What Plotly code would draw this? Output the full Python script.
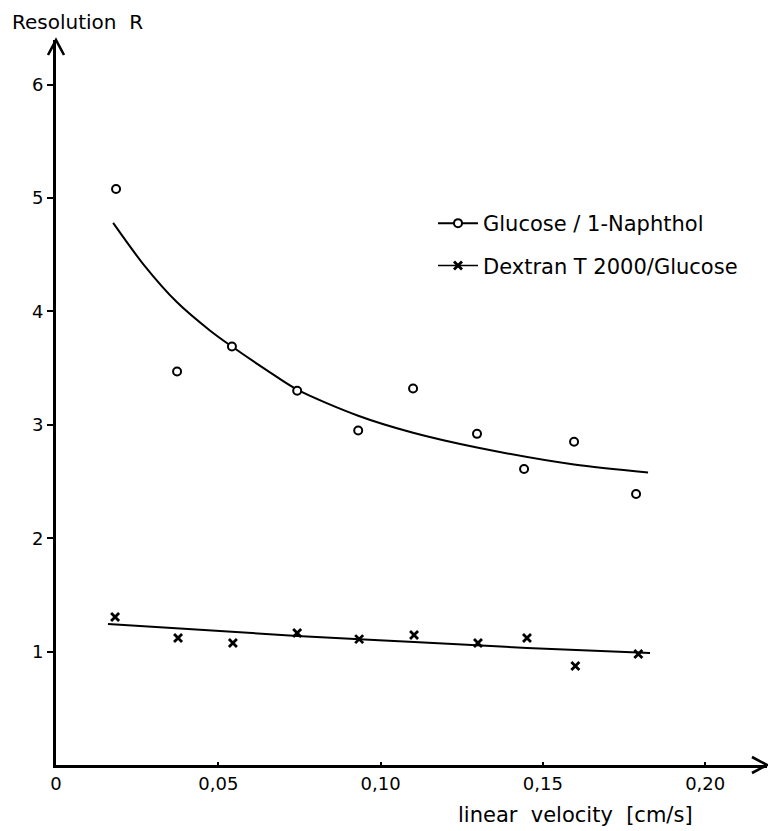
import plotly.graph_objects as go

# ---- data ----
glc_x = [0.0185, 0.0373, 0.0542, 0.0743, 0.0931, 0.1100, 0.1297, 0.1442, 0.1596, 0.1787]
glc_y = [5.08, 3.47, 3.69, 3.30, 2.95, 3.32, 2.92, 2.61, 2.85, 2.39]
glc_fit_x = [0.0176, 0.0268, 0.0373, 0.0475, 0.0542, 0.0650, 0.0743, 0.0931, 0.1100, 0.1297, 0.1596, 0.1824]
glc_fit_y = [4.78, 4.42, 4.08, 3.83, 3.69, 3.48, 3.31, 3.08, 2.93, 2.80, 2.65, 2.58]

dex_x = [0.0182, 0.0376, 0.0545, 0.0743, 0.0934, 0.1103, 0.1300, 0.1451, 0.1600, 0.1794]
dex_y = [1.305, 1.12, 1.076, 1.164, 1.11, 1.146, 1.076, 1.12, 0.873, 0.979]
dex_fit_x = [0.0160, 0.0743, 0.1103, 0.1451, 0.1830]
dex_fit_y = [1.243, 1.138, 1.085, 1.032, 0.988]

x_tickvals = [0, 0.05, 0.10, 0.15, 0.20]
x_ticktext = ["0", "0,05", "0,10", "0,15", "0,20"]
y_tickvals = [1, 2, 3, 4, 5, 6]
y_ticktext = ["1", "2", "3", "4", "5", "6"]

names = ["Glucose / 1-Naphthol", "Dextran T 2000/Glucose"]

FONT = "DejaVu Sans"
W, H = 768, 831
L, R, T, B = 56, 1, 40, 66
PW, PH = W - L - R, H - T - B

fig = go.Figure()

# fitted curves
fig.add_trace(go.Scatter(x=glc_fit_x, y=glc_fit_y, mode="lines",
                         line=dict(color="black", width=2, shape="spline", smoothing=0.8),
                         showlegend=False, hoverinfo="skip"))
fig.add_trace(go.Scatter(x=dex_fit_x, y=dex_fit_y, mode="lines",
                         line=dict(color="black", width=2, shape="spline"),
                         showlegend=False, hoverinfo="skip"))

circle_marker = dict(symbol="circle", size=8, color="white",
                     line=dict(color="black", width=2))
cross_marker = dict(symbol="x-thin", size=8, color="black",
                    line=dict(color="black", width=2.8))

fig.add_trace(go.Scatter(x=glc_x, y=glc_y, mode="markers", marker=circle_marker,
                         showlegend=False))
fig.add_trace(go.Scatter(x=dex_x, y=dex_y, mode="markers", marker=cross_marker,
                         showlegend=False))

# legend-only entries (line + marker symbol)
fig.add_trace(go.Scatter(x=[None], y=[None], mode="lines+markers", name=names[0],
                         legendgroup="a", marker=circle_marker,
                         line=dict(color="black", width=2)))
fig.add_trace(go.Scatter(x=[None], y=[None], mode="lines+markers", name=names[1],
                         legendgroup="b", marker=cross_marker,
                         line=dict(color="black", width=1.5)))

# arrowheads on axes (paper coords, pixel-sized)
def px_x(p):
    return p / PW

def px_y(p):
    return p / PH

shapes = [
    dict(type="path", xref="paper", yref="paper",
         path=f"M {-px_x(8)},{1 - px_y(15)} L 0,1 L {px_x(8)},{1 - px_y(15)}",
         line=dict(color="black", width=2.6)),
    dict(type="path", xref="paper", yref="paper",
         path=f"M {1 - px_x(15)},{px_y(8)} L 1,0 L {1 - px_x(15)},{-px_y(8)}",
         line=dict(color="black", width=2.6)),
]

fig.update_layout(
    width=W, height=H,
    margin=dict(l=L, r=R, t=T, b=B),
    paper_bgcolor="white", plot_bgcolor="white",
    font=dict(family=FONT, color="black", size=18),
    shapes=shapes,
    showlegend=True,
    legend=dict(x=(433 - L) / PW, y=1 - (203 - T) / PH, xanchor="left", yanchor="top",
                font=dict(size=21, family=FONT), bgcolor="rgba(0,0,0,0)",
                tracegroupgap=12, itemwidth=40),
    annotations=[
        dict(text="Resolution  R", xref="paper", yref="paper",
             x=-(L - 10) / PW, y=1 + (T - 22) / PH, xanchor="left", yanchor="middle",
             showarrow=False, font=dict(size=20, family=FONT)),
        dict(text="linear  velocity  [cm/s]", xref="paper", yref="paper",
             x=(575 - L) / PW, y=-(815 - (T + PH)) / PH, xanchor="center", yanchor="middle",
             showarrow=False, font=dict(size=21, family=FONT)),
    ],
)

fig.update_xaxes(range=[0, PW / 3246.0], showgrid=False, zeroline=False,
                 showline=True, linecolor="black", linewidth=3,
                 tickvals=x_tickvals, ticktext=x_ticktext,
                 ticks="inside", ticklen=3, tickwidth=1.5, tickcolor="black",
                 tickfont=dict(size=18, family=FONT))
fig.update_yaxes(range=[0, PH / 113.4], showgrid=False, zeroline=False,
                 showline=True, linecolor="black", linewidth=3,
                 tickvals=y_tickvals, ticktext=y_ticktext,
                 ticks="outside", ticklen=6, tickwidth=1.5, tickcolor="black",
                 tickfont=dict(size=18, family=FONT))

fig.write_html("out.html")
